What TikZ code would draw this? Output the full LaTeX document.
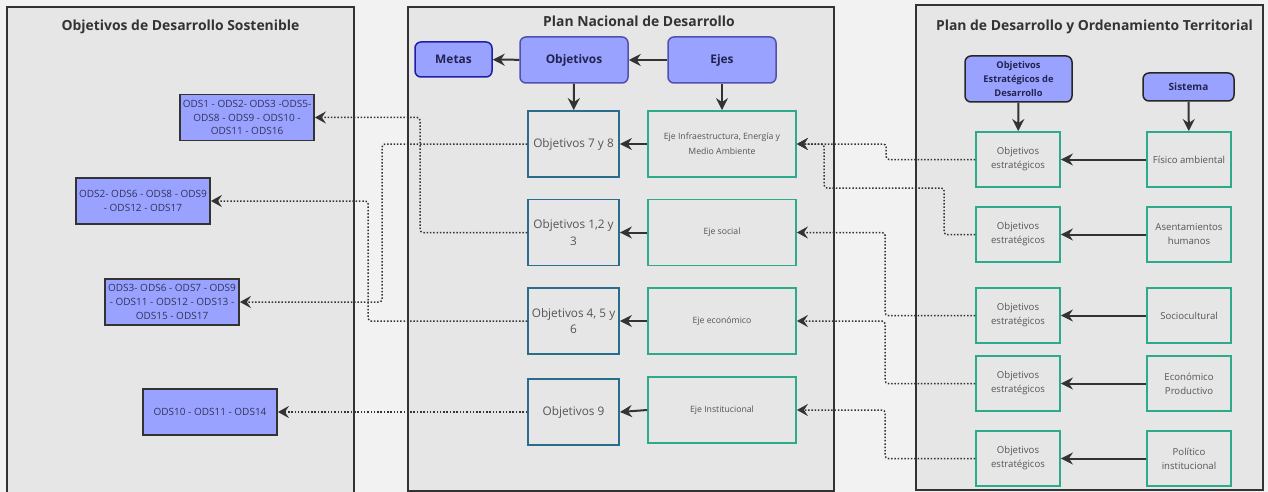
\documentclass[tikz,border=0pt]{standalone}
\usepackage{fontspec}
\setmainfont{Open Sans}
\usepackage{xcolor}
\usepackage{tikz}
\usetikzlibrary{arrows.meta,positioning}

\definecolor{bggray}{RGB}{242,242,242}
\definecolor{panelgray}{RGB}{230,230,230}
\definecolor{odsblue}{RGB}{153,163,255}
\definecolor{odstext}{RGB}{50,50,90}
\definecolor{headtext}{RGB}{35,35,80}
\definecolor{metasblue}{RGB}{30,30,170}
\definecolor{headblue}{RGB}{80,80,175}
\definecolor{objteal}{RGB}{40,110,140}
\definecolor{ejegreen}{RGB}{45,170,140}
\definecolor{boxtext}{RGB}{85,85,85}
\definecolor{arrowgray}{RGB}{51,51,51}

\begin{document}
\begin{tikzpicture}[x=1pt, y=-1pt, font=\fontsize{10}{13.7}\selectfont,
  panel/.style={draw=black!80, line width=1.8pt, fill=panelgray},
  title/.style={font=\fontsize{13.9}{16}\selectfont\bfseries, text=black!80},
  ods/.style={draw=black!80, line width=1.8pt, fill=odsblue, text=odstext,
    align=center, inner sep=0pt, minimum width=134pt, minimum height=46pt},
  head/.style={rounded corners=6pt, line width=1.5pt, fill=odsblue, text=headtext,
    align=center, inner sep=0pt, font=\fontsize{11.9}{14}\selectfont\bfseries},
  objbox/.style={draw=objteal, line width=1.8pt, text=boxtext, align=center,
    inner sep=0pt, minimum width=91pt, minimum height=66pt,
    font=\fontsize{11.8}{16.7}\selectfont},
  ejebox/.style={draw=ejegreen, line width=1.8pt, text=boxtext, align=center,
    inner sep=0pt, minimum width=148pt, minimum height=66pt,
    font=\fontsize{8.7}{14.6}\selectfont},
  sysbox/.style={draw=ejegreen, line width=1.8pt, text=boxtext, align=center,
    inner sep=0pt, minimum width=84pt, minimum height=55pt,
    font=\fontsize{9.6}{14}\selectfont},
  flow/.style={draw=arrowgray, line width=2pt,
    -{Stealth[length=12pt, width=12pt, inset=4pt]}},
  link/.style={draw=arrowgray, line width=1.5pt, rounded corners=3pt,
    dash pattern=on 1.5pt off 1.8pt,
    -{Stealth[length=11pt, width=12pt, inset=4pt]}}]
  % page and the three panels
  \fill[bggray] (0,0) rectangle (1268,492);
  \useasboundingbox (0,0) rectangle (1268,492);
  \filldraw[panel] (7,7) rectangle (354,498);
  \filldraw[panel] (408,7) rectangle (834,491);
  \filldraw[panel] (916,5) rectangle (1263,490);
  \node[title] (tods) at (180.5,27) {Objetivos de Desarrollo Sostenible};
  \node[title] (tpnd) at (639,21.5) {Plan Nacional de Desarrollo};
  \node[title] (tpdot) at (1094.5,26.5) {Plan de Desarrollo y Ordenamiento Territorial};

  % ODS
  \node[ods] (ods1) at (247,117.5)
    {ODS1 - ODS2- ODS3 -ODS5-\\ODS8 - ODS9 - ODS10 -\\ODS11 - ODS16};
  \node[ods] (ods2) at (143,201)
    {ODS2- ODS6 - ODS8 - ODS9\\- ODS12 - ODS17};
  \node[ods] (ods3) at (172,302)
    {ODS3- ODS6 - ODS7 - ODS9\\- ODS11 - ODS12 - ODS13 -\\ODS15 - ODS17};
  \node[ods] (ods10) at (210,412) {ODS10 - ODS11 - ODS14};

  % Plan Nacional de Desarrollo
  \node[head, draw=metasblue, minimum width=77pt, minimum height=35pt] (metas) at (453.5,59.5) {Metas};
  \node[head, draw=headblue, minimum width=108pt, minimum height=46pt] (objs) at (574,60) {Objetivos};
  \node[head, draw=headblue, minimum width=108pt, minimum height=46pt] (ejes) at (722,60) {Ejes};
  \node[objbox] (o78) at (573.5,144) {Objetivos 7 y 8};
  \node[objbox] (o123) at (573.5,232.5) {Objetivos 1,2 y\\3};
  \node[objbox] (o456) at (573.5,321) {Objetivos 4, 5 y\\6};
  \node[objbox] (o9) at (573.5,412) {Objetivos 9};
  \node[ejebox] (ejeinf) at (722,144) {Eje Infraestructura, Energía y\\Medio Ambiente};
  \node[ejebox] (ejesoc) at (722,232.5) {Eje social};
  \node[ejebox] (ejeeco) at (722,321) {Eje económico};
  \node[ejebox] (ejeins) at (722,410) {Eje Institucional};
  \draw[flow] (ejes) -- (objs);
  \draw[flow] (objs) -- (metas);
  \draw[flow] (objs) -- (o78);
  \draw[flow] (ejes) -- (ejeinf);
  \draw[flow] (ejeinf) -- (o78);
  \draw[flow] (ejesoc) -- (o123);
  \draw[flow] (ejeeco) -- (o456);
  \draw[flow] (ejeins.west) -- (o9.east);

  % Plan de Desarrollo y Ordenamiento Territorial
  \node[head, draw=black!85, minimum width=107pt, minimum height=46pt,
    font=\fontsize{9.3}{13.7}\selectfont\bfseries] (oed) at (1018.5,79)
    {Objetivos\\Estratégicos de\\Desarrollo};
  \node[head, draw=black!85, minimum width=91pt, minimum height=28pt,
    font=\fontsize{10}{12}\selectfont\bfseries] (sist) at (1188.5,87) {Sistema};
  \foreach \n/\y in {1/159.5, 2/234.5, 3/315.5, 4/383.5, 5/458.5}
    \node[sysbox] (oe\n) at (1018,\y) {Objetivos\\estratégicos};
  \node[sysbox] (fis) at (1189,159.5) {Físico ambiental};
  \node[sysbox] (asen) at (1189,234.5) {Asentamientos\\humanos};
  \node[sysbox] (soc) at (1189,315.5) {Sociocultural};
  \node[sysbox] (eco) at (1189,383.5) {Económico\\Productivo};
  \node[sysbox] (pol) at (1189,458.5) {Político\\institucional};
  \draw[flow] (oed) -- (oe1);
  \draw[flow] (sist) -- (fis);
  \draw[flow] (fis) -- (oe1);
  \draw[flow] (asen) -- (oe2);
  \draw[flow] (soc) -- (oe3);
  \draw[flow] (eco) -- (oe4);
  \draw[flow] (pol) -- (oe5);

  % dotted links between the plans
  \draw[link] (o78.west) -- ++(-145,0) |- (ods3.east);
  \draw[link] (o123.west) -- ++(-107,0) |- (ods1.east);
  \draw[link] (o456.west) -- ++(-159,0) |- (ods2.east);
  \draw[link] (o9.west) -- (ods10.east);
  \draw[link] (oe1.west) -- ++(-89,0) |- (ejeinf.east);
  \draw[link] (oe2.west) -- ++(-31,0) |- ++(-120,-46.5) |- (ejeinf.east);
  \draw[link] (oe3.west) -- ++(-90,0) |- (ejesoc.east);
  \draw[link] (oe4.west) -- ++(-90,0) |- (ejeeco.east);
  \draw[link] (oe5.west) -- ++(-90,0) |- (ejeins.east);
\end{tikzpicture}
\end{document}
